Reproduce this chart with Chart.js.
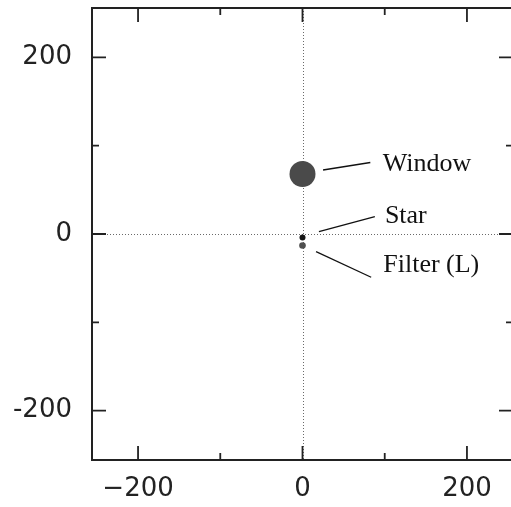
<!DOCTYPE html>
<html>
<head>
<meta charset="utf-8">
<script src="https://cdn.jsdelivr.net/npm/chart.js@4"></script>
<style>
html,body{margin:0;padding:0;background:#fff;overflow:hidden;}
#wrap{width:511px;height:507px;overflow:hidden;position:relative;}
canvas{display:block;margin-top:-5px;}
</style>
</head>
<body>
<div id="wrap"><canvas id="c" width="530" height="512"></canvas></div>
<script>
// ---- data ----
const objectNames = ['Window', 'Star', 'Filter (L)'];
const xValues = [0, 0, 0];
const yValues = [68, -4, -13];
const tickValues = [-200, -100, 0, 100, 200];
const labeledTicks = [-200, 0, 200];
const axisMin = -256;
const axisMax = 256;

// ---- styles / layout (not data) ----
const pointRadii = [13, 3, 3.3];
const pointColors = ['#4a4a4a', '#151515', '#4f4f4f'];
// leader lines and label anchors, in data coordinates
const annotations = [
  {line: [[25, 72.5], [82.5, 81]], text: [97.6, 71.6]},
  {line: [[20, 2.6], [88, 19.6]], text: [100.2, 12.4]},
  {line: [[16.5, -20], [83.5, -49]], text: [98.2, -43.5]}
];

const frameColor = '#222';

const framePlugin = {
  id: 'frame',
  beforeDatasetsDraw(chart) {
    const {ctx, chartArea: a, scales: {x, y}} = chart;
    ctx.save();
    // dotted zero lines
    ctx.strokeStyle = '#6a6a6a';
    ctx.lineWidth = 1;
    ctx.setLineDash([1, 2]);
    const x0 = Math.round(x.getPixelForValue(0)) + 0.5;
    const y0 = Math.round(y.getPixelForValue(0)) + 0.5;
    ctx.beginPath();
    ctx.moveTo(x0, a.top); ctx.lineTo(x0, a.bottom);
    ctx.moveTo(a.left, y0); ctx.lineTo(a.right, y0);
    ctx.stroke();
    ctx.setLineDash([]);
    // frame
    ctx.strokeStyle = frameColor;
    ctx.lineWidth = 2;
    ctx.strokeRect(a.left, a.top, a.right - a.left, a.bottom - a.top);
    // inward ticks
    ctx.lineWidth = 1.8;
    ctx.beginPath();
    tickValues.forEach(v => {
      const len = labeledTicks.includes(v) ? 14 : 7;
      const px = x.getPixelForValue(v);
      ctx.moveTo(px, a.bottom); ctx.lineTo(px, a.bottom - len);
      ctx.moveTo(px, a.top); ctx.lineTo(px, a.top + len);
      const py = y.getPixelForValue(v);
      ctx.moveTo(a.left, py); ctx.lineTo(a.left + len, py);
      ctx.moveTo(a.right, py); ctx.lineTo(a.right - len, py);
    });
    ctx.stroke();
    ctx.restore();
  },
  afterDatasetsDraw(chart) {
    const {ctx, scales: {x, y}} = chart;
    ctx.save();
    ctx.strokeStyle = '#111';
    ctx.lineWidth = 1.3;
    ctx.fillStyle = '#111';
    ctx.font = '26px "Liberation Serif", "Times New Roman", serif';
    ctx.textBaseline = 'alphabetic';
    ctx.textAlign = 'left';
    annotations.forEach((an, i) => {
      ctx.beginPath();
      ctx.moveTo(x.getPixelForValue(an.line[0][0]), y.getPixelForValue(an.line[0][1]));
      ctx.lineTo(x.getPixelForValue(an.line[1][0]), y.getPixelForValue(an.line[1][1]));
      ctx.stroke();
      ctx.fillText(objectNames[i], x.getPixelForValue(an.text[0]), y.getPixelForValue(an.text[1]));
    });
    ctx.restore();
  }
};

const tickFont = {family: '"DejaVu Sans", sans-serif', size: 26};

new Chart(document.getElementById('c'), {
  type: 'scatter',
  data: {
    datasets: [{
      data: xValues.map((v, i) => ({x: v, y: yValues[i]})),
      pointRadius: pointRadii,
      pointHoverRadius: pointRadii,
      pointBackgroundColor: pointColors,
      pointBorderColor: pointColors,
      pointBorderWidth: 0
    }]
  },
  options: {
    responsive: false,
    animation: false,
    devicePixelRatio: 1,
    layout: {padding: {top: 3, right: 17, left: 0, bottom: 0}},
    plugins: {legend: {display: false}, tooltip: {enabled: false}},
    scales: {
      x: {
        type: 'linear', min: axisMin, max: axisMax,
        afterBuildTicks: s => { s.ticks = tickValues.map(v => ({value: v})); },
        afterFit: s => { s.height = 47; s.paddingLeft = 0; s.paddingRight = 0; s.paddingTop = 0; s.paddingBottom = 0; },
        grid: {display: false, drawTicks: false},
        border: {display: false},
        ticks: {
          autoSkip: false, maxRotation: 0, padding: 14, color: '#222', font: tickFont,
          callback: v => labeledTicks.includes(v) ? (v < 0 ? '\u2212' + Math.abs(v) : String(v)) : ''
        }
      },
      y: {
        type: 'linear', min: axisMin, max: axisMax,
        afterBuildTicks: s => { s.ticks = tickValues.map(v => ({value: v})); },
        afterFit: s => { s.width = 92; s.paddingLeft = 0; s.paddingRight = 0; s.paddingTop = 0; s.paddingBottom = 0; },
        grid: {display: false, drawTicks: false},
        border: {display: false},
        ticks: {
          autoSkip: false, padding: 20, color: '#222', font: tickFont,
          callback: v => labeledTicks.includes(v) ? String(v) : ''
        }
      }
    }
  },
  plugins: [framePlugin]
});
</script>
</body>
</html>
